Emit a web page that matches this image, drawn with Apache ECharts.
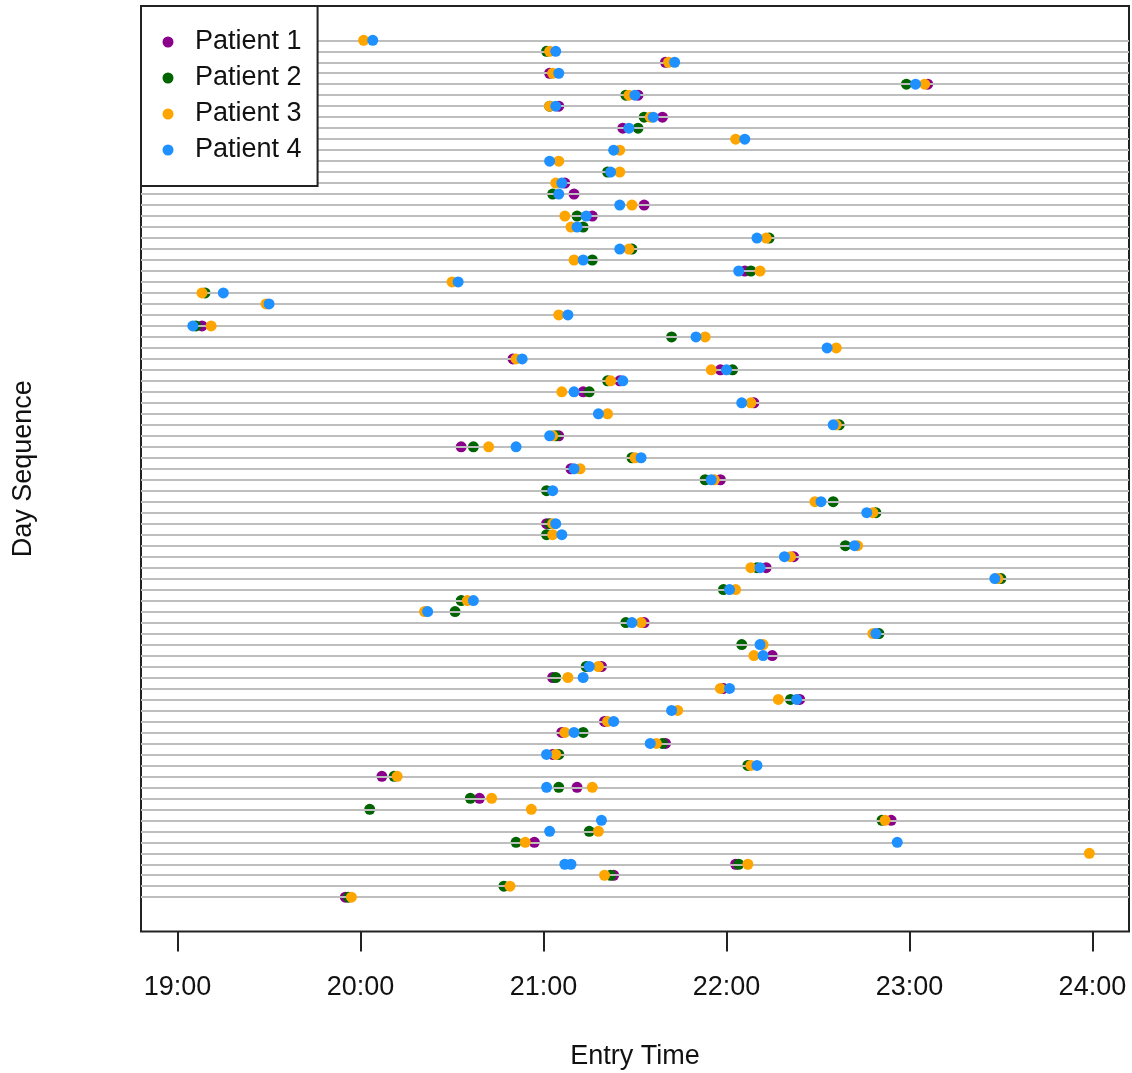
<!DOCTYPE html>
<html>
<head>
<meta charset="utf-8">
<script src="https://cdn.jsdelivr.net/npm/echarts@6/dist/echarts.min.js"></script>
<style>html,body{margin:0;padding:0;background:#fff}#c{width:1132px;height:1073px}</style>
</head>
<body>
<div id="c"></div>
<script>
// Entry times per day (row 1 = top). null = no visible point; arrays = several entries that day.
const patient1 = [null,null,"21:40","21:02","23:06","21:31","21:05","21:39","21:26",null,
  null,null,null,"21:07","21:10","21:33","21:16",null,null,null,
  null,"22:06",null,null,null,null,"19:08",null,null,"20:50",
  "21:58","21:25","21:13","22:09",null,null,"21:05","20:33",null,"21:09",
  "21:58",null,null,null,"21:01",null,null,"22:22","22:13",null,
  null,null,null,"21:33",null,null,"22:15","21:19","21:03","21:59",
  "22:24",null,"21:20","21:06","21:40","21:03",null,"20:07","21:11","20:39",
  null,"22:54",null,"20:57",null,"22:03","21:23",null,"19:55"];
const patient2 = [null,"21:01",null,null,"22:59","21:27","21:02","21:33","21:31",null,
  null,null,"21:21",null,"21:03",null,"21:11","21:13","22:14","21:29",
  "21:16","22:08",null,"19:09",null,null,"19:06","21:42",null,null,
  "22:02","21:21","21:15",null,null,"22:37","21:04","20:37","21:29",null,
  "21:53","21:01","22:35","22:49","21:02","21:01","22:39",null,"22:10","23:30",
  "21:59","20:33","20:31","21:27","22:50","22:05",null,"21:14","21:04",null,
  "22:21",null,null,"21:13","21:39","21:05","22:07","20:11","21:05","20:36",
  "20:03","22:51","21:15","20:51",null,"22:04","21:22","20:47","19:56"];
const patient3 = ["20:01","21:02","21:41","21:03","23:05","21:28","21:02","21:35",null,"22:03",
  "21:25","21:05","21:25","21:04",null,"21:29","21:07","21:09","22:13","21:28",
  "21:10","22:11","20:30","19:08","19:29","21:05","19:11","21:53","22:36","20:51",
  "21:55","21:22","21:06","22:08","21:21","22:36","21:03","20:42","21:30","21:12",
  "21:56",null,"22:29","22:48","21:03","21:03","22:43","22:21","22:08","23:29",
  "22:03","20:35","20:21","21:32","22:48","22:12","22:09","21:18","21:08","21:58",
  "22:17","21:44","21:21","21:07","21:37","21:04","22:08","20:12","21:16","20:43",
  "20:56","22:52","21:18","20:54","23:59","22:07","21:20","20:49","19:57"];
const patient4 = ["20:04","21:04","21:43","21:05","23:02","21:30","21:04","21:36","21:28","22:06",
  "21:23","21:02","21:22","21:06","21:05","21:25","21:14","21:11","22:10","21:25",
  "21:13","22:04","20:32","19:15","19:30","21:08","19:05","21:50","22:33","20:53",
  "22:00","21:26","21:10","22:05","21:18","22:35","21:02","20:51","21:32","21:10",
  "21:55","21:03","22:31","22:46","21:04","21:06","22:42","22:19","22:11","23:28",
  "22:01","20:37","20:22","21:29","22:49","22:11","22:12","21:15","21:13","22:01",
  "22:23","21:42","21:23","21:10","21:35","21:01","22:10",null,"21:01",null,
  null,"21:19","21:02","22:56",null,["21:07","21:09"],null,null,null];
const patientNames = ["Patient 1","Patient 2","Patient 3","Patient 4"];
const patientColors = ["#8B008B","#006400","#FFA500","#1E90FF"];
const tickHours = [19,20,21,22,23,24];
const dayCount = patient1.length;

const FONT = "'Liberation Sans', Arial, sans-serif";
function toHours(t){ const p = t.split(':').map(Number); return p[0] + p[1]/60; }
function toPoints(arr){
  const out = [];
  arr.forEach((v, i) => {
    if (v == null) return;
    (Array.isArray(v) ? v : [v]).forEach(t => out.push([toHours(t), i + 1]));
  });
  return out;
}
const allData = [patient1, patient2, patient3, patient4];
const days = patient1.map((_, i) => i + 1);

const pad = (dayCount - 1) * 0.04;
const xPad = (tickHours[tickHours.length-1] - tickHours[0]) * 0.04;

const chart = echarts.init(document.getElementById('c'), null, {renderer: 'canvas'});
const series = [{
  type: 'scatter', name: 'rows', data: [], z: 1, silent: true,
  markLine: {
    silent: true, symbol: ['none','none'], animation: false,
    label: {show: false},
    lineStyle: {color: '#bebebe', width: 2, type: 'solid'},
    emphasis: {disabled: true},
    data: days.map(d => ({yAxis: d}))
  }
}];
allData.forEach((arr, k) => {
  series.push({
    type: 'scatter', name: patientNames[k], data: toPoints(arr),
    symbol: 'circle', symbolSize: 11, z: 3 + k,
    itemStyle: {color: patientColors[k], opacity: 1},
    emphasis: {disabled: true}
  });
});

chart.setOption({
  animation: false,
  backgroundColor: '#fff',
  textStyle: {fontFamily: FONT},
  grid: {left: 141, right: 3, top: 6, bottom: 141.5, outerBoundsMode: 'none', containLabel: false,
    show: true, borderColor: '#222', borderWidth: 2, backgroundColor: 'transparent'},
  xAxis: {
    type: 'value', min: tickHours[0] - xPad, max: tickHours[tickHours.length-1] + xPad,
    position: 'bottom',
    axisLine: {show: false, onZero: false},
    splitLine: {show: false},
    axisTick: {show: true, inside: false, customValues: tickHours, length: 20, lineStyle: {color: '#222', width: 2}},
    axisLabel: {customValues: tickHours, formatter: v => Math.round(v) + ':00', fontSize: 27, color: '#111', margin: 43, fontFamily: FONT},
    name: 'Entry Time', nameLocation: 'middle', nameGap: 112,
    nameTextStyle: {fontSize: 27, color: '#111', fontFamily: FONT}
  },
  yAxis: {
    type: 'value', inverse: true, min: 1 - pad, max: dayCount + pad,
    axisLine: {show: false, onZero: false}, axisTick: {show: false}, axisLabel: {show: false}, splitLine: {show: false},
    name: 'Day Sequence', nameLocation: 'middle', nameGap: 104,
    nameTextStyle: {fontSize: 27, color: '#111', fontFamily: FONT}
  },
  legend: {
    data: patientNames.map(n => ({name: n, icon: 'circle'})),
    orient: 'vertical', left: 141, top: 6,
    itemWidth: 44, itemHeight: 11, itemGap: 0,
    padding: [18, 16, 18, 21.5],
    borderColor: '#222', borderWidth: 2, backgroundColor: '#fff',
    textStyle: {fontSize: 27, lineHeight: 36, color: '#111', fontFamily: FONT},
    selectedMode: false, z: 10
  },
  series: series
});
</script>
</body>
</html>
